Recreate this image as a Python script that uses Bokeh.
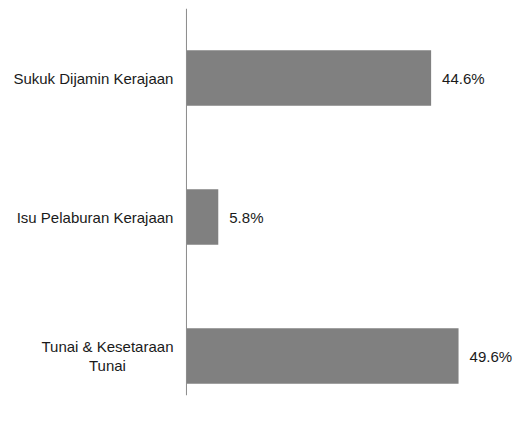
from bokeh.plotting import figure
from bokeh.models import ColumnDataSource, Range1d, Label, Span
from bokeh.core.properties import value
from bokeh.embed import file_html
from bokeh.resources import INLINE

categories = ["Sukuk Dijamin Kerajaan", "Isu Pelaburan Kerajaan", "Tunai & Kesetaraan\nTunai"]
values = [44.6, 5.8, 49.6]
value_labels = ["44.6%", "5.8%", "49.6%"]

FONT = "Liberation Sans"
FS = "15px"
TXT = "#1a1a1a"

pos = list(range(len(categories)))
src = ColumnDataSource(dict(y=pos, v=values, lab=value_labels))

p = figure(width=514, height=421, output_backend="svg", toolbar_location=None,
           x_range=Range1d(-33.9, 59.8), y_range=Range1d(2.284, -0.5),
           min_border_left=0, min_border_right=0, min_border_top=8, min_border_bottom=26)
p.outline_line_color = None
p.background_fill_color = "white"
p.border_fill_color = "white"
p.xgrid.visible = False
p.ygrid.visible = False
p.axis.visible = False

# category axis line at zero
p.add_layout(Span(location=0, dimension="height", line_color="#8a8a8a", line_width=1))

p.hbar(y="y", right="v", left=0, height=0.4, source=src, fill_color="#808080", line_color=None)
p.text(x="v", y="y", text="lab", source=src, x_offset=11, text_align="left", text_baseline="middle",
       text_font_size=FS, text_color=TXT, text_font=value(FONT))

# category labels: single-line right-aligned, wrapped ones with centred lines
for i, c in zip(pos, categories):
    if "\n" in c:
        p.add_layout(Label(x=0, y=i, text=c, x_offset=-79, text_align="center", text_baseline="middle",
                           text_font=FONT, text_font_size=FS, text_color=TXT, text_line_height=1.13))
    else:
        p.add_layout(Label(x=0, y=i, text=c, x_offset=-13, text_align="right", text_baseline="middle",
                           text_font=FONT, text_font_size=FS, text_color=TXT))

open("out.html", "w").write(file_html(p, INLINE))
